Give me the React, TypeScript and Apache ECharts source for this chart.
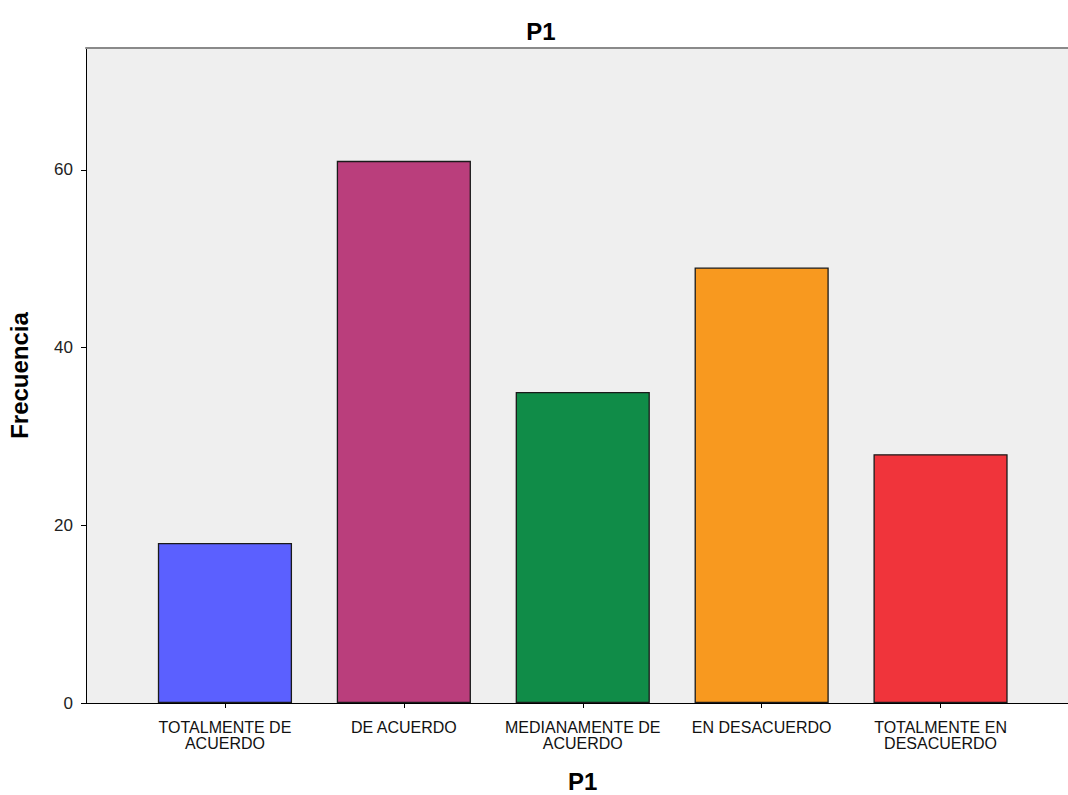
import React, { useEffect, useRef } from "react";
import * as echarts from "echarts";

const categories = [
  "TOTALMENTE DE\nACUERDO",
  "DE ACUERDO",
  "MEDIANAMENTE DE\nACUERDO",
  "EN DESACUERDO",
  "TOTALMENTE EN\nDESACUERDO",
];
const values = [18, 61, 35, 49, 28];
const colors = ["#5b60ff", "#ba3e7c", "#108c48", "#f8991f", "#f0343b"];
const yMax = 73.7;
const chartTitle = "P1";
const xTitle = "P1";
const yTitle = "Frecuencia";

export default function App() {
  const ref = useRef<HTMLDivElement>(null);
  useEffect(() => {
    if (!ref.current) return;
    const chart = echarts.init(ref.current, undefined, { renderer: "svg" });
    const font = "'Liberation Sans', Arial, sans-serif";
    chart.setOption({
      animation: false,
      backgroundColor: "#ffffff",
      title: {
        text: chartTitle,
        left: 536,
        textAlign: "center",
        top: 14,
        textStyle: { fontFamily: font, fontSize: 24, fontWeight: "bold", color: "#000" },
      },
      grid: [
        { left: 86, right: 0, top: 48, bottom: 92, show: true, backgroundColor: "#efefef", borderWidth: 0, containLabel: false, outerBoundsMode: "none" },
        { left: 135.5, right: 38, top: 48, bottom: 92, containLabel: false, outerBoundsMode: "none" },
      ],
      xAxis: [
        {
          gridIndex: 0, type: "value", min: 0, max: 1, position: "bottom",
          axisLine: { show: true, lineStyle: { color: "#000", width: 1 } },
          axisTick: { show: false }, axisLabel: { show: false }, splitLine: { show: false },
        },
        {
          gridIndex: 0, type: "value", min: 0, max: 1, position: "top",
          axisLine: { show: true, lineStyle: { color: "#8a8a8a", width: 2 } },
          axisTick: { show: false }, axisLabel: { show: false }, splitLine: { show: false },
        },
        {
          gridIndex: 1, type: "category", data: categories, position: "bottom",
          axisLine: { show: false },
          axisTick: { show: true, alignWithLabel: true, length: 5, lineStyle: { color: "#000" } },
          axisLabel: { fontFamily: font, fontSize: 16, lineHeight: 16, color: "#111", margin: 16, interval: 0 },
          name: xTitle, nameLocation: "middle", nameGap: 66,
          nameTextStyle: { fontFamily: font, fontSize: 24, fontWeight: "bold", color: "#000" },
        },
      ],
      yAxis: [
        {
          gridIndex: 0, type: "value", min: 0, max: yMax, interval: 20,
          axisLine: { show: true, lineStyle: { color: "#000", width: 1 } },
          axisTick: { show: true, length: 5, lineStyle: { color: "#000" } },
          axisLabel: { fontFamily: font, fontSize: 17, color: "#222", margin: 13, showMaxLabel: false },
          splitLine: { show: false },
          name: yTitle, nameLocation: "middle", nameGap: 55, nameRotate: 90,
          nameTextStyle: { fontFamily: font, fontSize: 24, fontWeight: "bold", color: "#000" },
        },
        {
          gridIndex: 1, type: "value", min: 0, max: yMax, show: false,
          splitLine: { show: false },
        },
      ],
      series: [
        {
          type: "bar",
          xAxisIndex: 2,
          yAxisIndex: 1,
          barWidth: "75%",
          data: values.map((v, i) => ({ value: v, itemStyle: { color: colors[i] } })),
          itemStyle: { borderColor: "#1a1a1a", borderWidth: 1.3 },
        },
      ],
    });
    return () => chart.dispose();
  }, []);
  return (
    <div
      ref={ref}
      style={{ position: "fixed", left: 0, top: 0, width: 1068, height: 795 }}
    />
  );
}
